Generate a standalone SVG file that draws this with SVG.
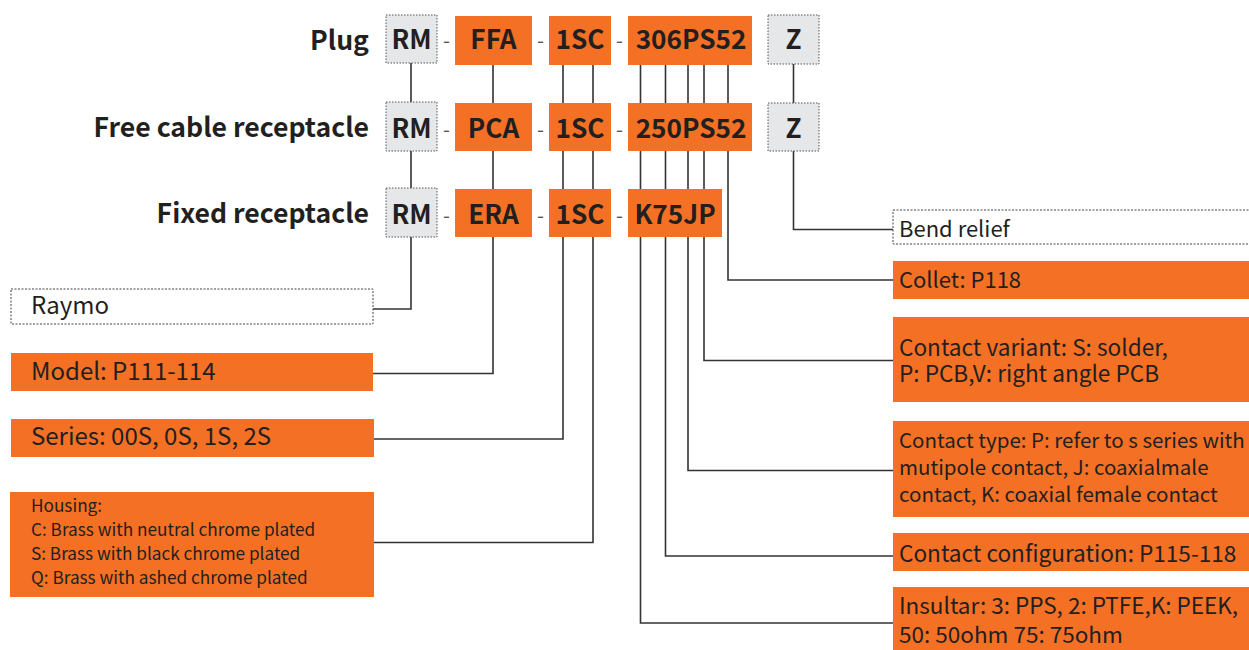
<svg xmlns="http://www.w3.org/2000/svg" width="1249" height="650" viewBox="0 0 1249 650">
<style>
.o{fill:#F37024}
.g{fill:#E6E7E8;stroke:#555;stroke-width:1;stroke-dasharray:1.5 1.5}
.d{fill:#fff;stroke:#444;stroke-width:1;stroke-dasharray:2 1.5}
.code{font-family:"Noto Sans CJK SC","Noto Sans",sans-serif;font-weight:700;font-size:26.2px;fill:#231F20;text-anchor:middle}
.lab{font-family:"Noto Sans CJK SC","Noto Sans",sans-serif;font-weight:700;font-size:26.6px;fill:#231F20;text-anchor:end}
.dash{font-family:"Noto Sans CJK SC","Noto Sans",sans-serif;font-size:20px;fill:#555;text-anchor:middle}
.t{font-family:"Noto Sans CJK SC","Noto Sans",sans-serif;fill:#231F20}
.c{fill:none;stroke:#333;stroke-width:1.6}
</style>
<g id="connectors" class="c">
<path d="M411,63 V309 H373"/>
<path d="M493,65 V373.5 H373"/>
<path d="M563,65 V439 H374"/>
<path d="M593,65 V542.5 H374"/>
<path d="M640.5,65 V623 H893"/>
<path d="M665.5,65 V556 H893"/>
<path d="M688,65 V470.5 H893"/>
<path d="M704,65 V360.5 H893"/>
<path d="M728,65 V280 H893"/>
<path d="M793.5,64 V229.5 H893"/>
</g>
<g id="row-labels">
<text class="lab" x="369" y="50">Plug</text>
<text class="lab" x="369" y="137">Free cable receptacle</text>
<text class="lab" x="369" y="223">Fixed receptacle</text>
</g>
<g id="plug">
<rect class="g" x="386" y="15" width="51" height="48"/><text class="code" x="411.5" y="48.5">RM</text>
<text class="dash" x="446.5" y="48">-</text>
<rect class="o" x="455" y="16" width="77" height="49"/><text class="code" x="493.5" y="48.5">FFA</text>
<text class="dash" x="540.5" y="48">-</text>
<rect class="o" x="549" y="16" width="62" height="49"/><text class="code" x="580" y="48.5">1SC</text>
<text class="dash" x="619.5" y="48">-</text>
<rect class="o" x="628" y="16" width="124" height="49"/><text class="code" x="691" y="48.5">306PS52</text>
<rect class="g" x="768" y="15" width="51" height="49"/><text class="code" x="793.5" y="48.5">Z</text>
</g>
<g id="free-cable-receptacle">
<rect class="g" x="386" y="102" width="51" height="49"/><text class="code" x="411.5" y="138">RM</text>
<text class="dash" x="446.5" y="137">-</text>
<rect class="o" x="455" y="103" width="77" height="48"/><text class="code" x="493.5" y="138">PCA</text>
<text class="dash" x="540.5" y="137">-</text>
<rect class="o" x="549" y="103" width="62" height="48"/><text class="code" x="580" y="138">1SC</text>
<text class="dash" x="619.5" y="137">-</text>
<rect class="o" x="628" y="103" width="124" height="48"/><text class="code" x="691" y="138">250PS52</text>
<rect class="g" x="768" y="103" width="51" height="48"/><text class="code" x="793.5" y="138">Z</text>
</g>
<g id="fixed-receptacle">
<rect class="g" x="386" y="188" width="51" height="49"/><text class="code" x="411.5" y="224">RM</text>
<text class="dash" x="446.5" y="223">-</text>
<rect class="o" x="455" y="189" width="77" height="48"/><text class="code" x="493.5" y="224">ERA</text>
<text class="dash" x="540.5" y="223">-</text>
<rect class="o" x="549" y="189" width="62" height="48"/><text class="code" x="580" y="224">1SC</text>
<text class="dash" x="619.5" y="223">-</text>
<rect class="o" x="628" y="189" width="94" height="48"/><text class="code" x="675" y="224">K75JP</text>
</g>
<g id="raymo">
<rect class="d" x="11" y="289" width="362" height="35"/>
<text class="t" x="31" y="314" font-size="24">Raymo</text>
</g>
<g id="model">
<rect class="o" x="11" y="353" width="362" height="38"/>
<text class="t" x="31" y="380" font-size="24">Model: P111-114</text>
</g>
<g id="series">
<rect class="o" x="11" y="419" width="363" height="38"/>
<text class="t" x="31" y="444.5" font-size="24">Series: 00S, 0S, 1S, 2S</text>
</g>
<g id="housing">
<rect class="o" x="10" y="492" width="364" height="105"/>
<text class="t" font-size="17.2">
<tspan x="31" y="512">Housing:</tspan>
<tspan x="31" y="535.5">C: Brass with neutral chrome plated</tspan>
<tspan x="31" y="559.5">S: Brass with black chrome plated</tspan>
<tspan x="31" y="583.5">Q: Brass with ashed chrome plated</tspan>
</text>
</g>
<g id="bend-relief">
<rect class="d" x="893" y="210" width="360" height="34"/>
<text class="t" x="899" y="237" font-size="22">Bend relief</text>
</g>
<g id="collet">
<rect class="o" x="893" y="261" width="360" height="38"/>
<text class="t" x="899" y="287.5" font-size="22">Collet: P118</text>
</g>
<g id="contact-variant">
<rect class="o" x="893" y="317" width="360" height="85"/>
<text class="t" x="899" y="355.5" font-size="22.6">Contact variant: S: solder,</text>
<text class="t" x="899" y="382" font-size="22.6">P: PCB,V: right angle PCB</text>
</g>
<g id="contact-type">
<rect class="o" x="893" y="421" width="360" height="96"/>
<text class="t" x="899" y="447.5" font-size="20.5">Contact type: P: refer to s series with</text>
<text class="t" x="899" y="474.5" font-size="20.5">mutipole contact, J: coaxialmale</text>
<text class="t" x="899" y="501.5" font-size="20.5">contact, K: coaxial female contact</text>
</g>
<g id="contact-configuration">
<rect class="o" x="893" y="533" width="360" height="38"/>
<text class="t" x="899" y="562" font-size="22.6">Contact configuration: P115-118</text>
</g>
<g id="insultar">
<rect class="o" x="893" y="587" width="360" height="66"/>
<text class="t" x="899" y="614" font-size="22.5">Insultar: 3: PPS, 2: PTFE,K: PEEK,</text>
<text class="t" x="899" y="642.5" font-size="22.5">50: 50ohm 75: 75ohm</text>
</g>
</svg>
